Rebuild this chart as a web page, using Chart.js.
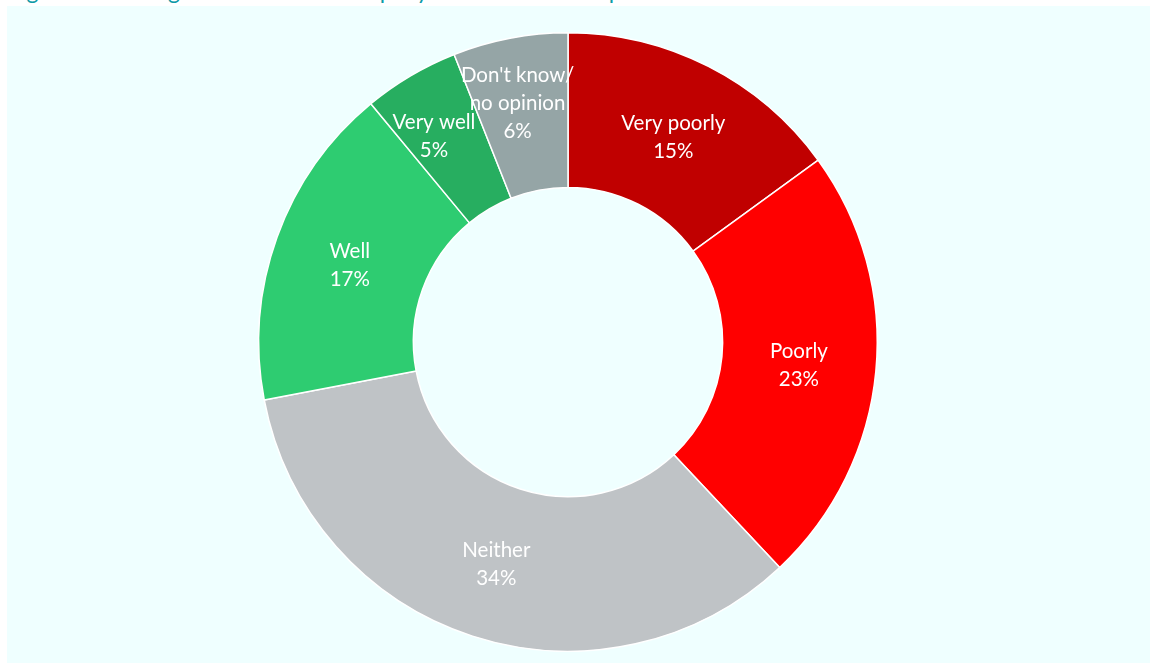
<!DOCTYPE html>
<html>
<head>
<meta charset="utf-8">
<script src="https://cdn.jsdelivr.net/npm/chart.js@4.4.1/dist/chart.umd.min.js"></script>
<style>
  body { margin: 0; background: #fff; font-family: Lato, "Open Sans", sans-serif; }
  #title { position: absolute; left: 8px; top: -21px; font-size: 23px; line-height: 22px; color: #0e9aa7; white-space: nowrap; }
  #panel { position: absolute; left: 7px; top: 6px; width: 1143px; height: 657px; background: #efffff; }
  #wrap { position: absolute; left: 0; top: 32px; width: 1136px; height: 620px; }
</style>
</head>
<body>
<div id="title">Figure 23: Rating of how the rail company handled the disruption</div>
<div id="panel"></div>
<div id="wrap"><canvas id="myChart"></canvas></div>
<script>
const ctx = document.getElementById("myChart");

// survey answers, clockwise from the top
const labels = ['Very poorly', 'Poorly', 'Neither', 'Well', 'Very well', "Don't know/\nno opinion"];
const shares = [15, 23, 34, 17, 5, 6];
const colours = ['#c00000', '#ff0000', '#bfc3c6', '#2ecc71', '#27ae60', '#95a5a6'];

// the two thin slices get their text pulled a bit off-centre
const nudge = { 4: [-16, -6], 5: [-7, -11] };

// white name + percentage in the middle of each slice
const sliceLabels = {
  id: 'sliceLabels',
  afterDatasetsDraw(chart) {
    const c = chart.ctx;
    const meta = chart.getDatasetMeta(0);
    c.save();
    c.fillStyle = '#fff';
    c.font = '20.5px Lato, "Open Sans", sans-serif';
    c.textAlign = 'center';
    c.textBaseline = 'middle';
    meta.data.forEach(function (arc, i) {
      const p = arc.tooltipPosition();
      const d = nudge[i] || [0, 2];
      const lines = labels[i].split('\n').concat([shares[i] + '%']);
      const lh = 28;
      const y0 = p.y + d[1] - (lines.length - 1) * lh / 2;
      lines.forEach(function (t, j) {
        c.fillText(t, p.x + d[0], y0 + j * lh);
      });
    });
    c.restore();
  }
};

new Chart(ctx, {
  type: 'doughnut',
  data: {
    labels: labels,
    datasets: [{
      data: shares,
      backgroundColor: colours,
      borderColor: '#ffffff',
      borderWidth: 1.5
    }]
  },
  options: {
    responsive: true,
    maintainAspectRatio: false,
    animation: false,
    cutout: '50%',
    layout: { padding: 0 },
    plugins: {
      legend: { display: false },
      tooltip: { enabled: false }
    }
  },
  plugins: [sliceLabels]
});
</script>
</body>
</html>
